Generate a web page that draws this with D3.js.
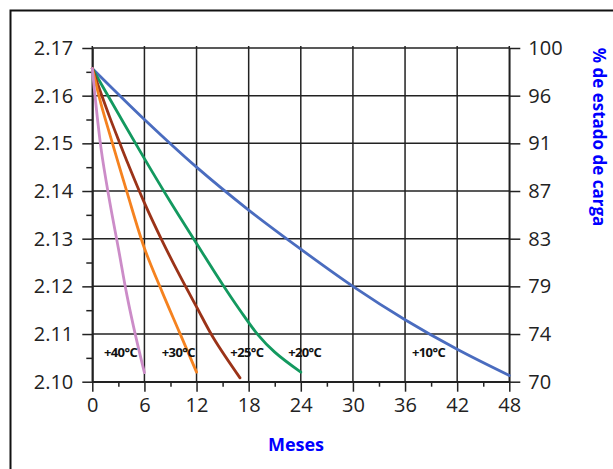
<!DOCTYPE html>
<html>
<head>
<meta charset="utf-8">
<script src="https://cdn.jsdelivr.net/npm/d3@7/dist/d3.min.js"></script>
<style>
  html, body { margin: 0; padding: 0; background: #fff; }
  svg { display: block; }
</style>
</head>
<body>
<div id="chart"></div>
<script>
// ---- data (months, cell voltage V) ----
var seriesNames = ["+10°C", "+20°C", "+25°C", "+30°C", "+40°C"];
var seriesColors = ["#4a6cbf", "#13995f", "#9b3318", "#f5821f", "#cc8cc8"];

var months10 = [0, 6, 12, 18, 24, 30, 36, 42, 48];
var volts10 = [2.1657, 2.1550, 2.1450, 2.1360, 2.1278, 2.1200, 2.1130, 2.1068, 2.1013];

var months20 = [0, 3, 6, 9, 12, 15, 17, 19, 21, 24];
var volts20 = [2.1657, 2.1562, 2.1468, 2.1377, 2.1290, 2.1204, 2.1150, 2.1100, 2.1062, 2.1020];

var months25 = [0, 1, 2, 3, 4, 6, 8, 10, 12, 14, 17];
var volts25 = [2.1657, 2.1605, 2.1555, 2.1508, 2.1462, 2.1375, 2.1297, 2.1225, 2.1157, 2.1090, 2.1008];

var months30 = [0, 1, 2, 3, 4, 6, 8, 10, 12];
var volts30 = [2.1657, 2.1583, 2.1520, 2.1458, 2.1397, 2.1280, 2.1190, 2.1105, 2.1020];

var months40 = [0, 1, 2, 3, 4, 5, 6];
var volts40 = [2.1657, 2.1490, 2.1378, 2.1280, 2.1180, 2.1095, 2.1019];

// label anchors in data units (month, volt)
var labelMonths = [38.7, 24.45, 17.8, 9.9, 3.25];
var labelVolts = [2.1063, 2.1063, 2.1063, 2.1063, 2.1063];

var voltTicks = [2.10, 2.11, 2.12, 2.13, 2.14, 2.15, 2.16, 2.17];
var chargeLabels = ["70", "74", "79", "83", "87", "91", "96", "100"];
var monthTicks = [0, 6, 12, 18, 24, 30, 36, 42, 48];

// ---- layout ----
var svgWidth = 613, svgHeight = 469;
var plot = { left: 92.3, right: 509.3, top: 48, bottom: 381.7 };

var svg = d3.select("#chart").append("svg")
    .attr("width", svgWidth)
    .attr("height", svgHeight);

// outer frame
svg.append("rect")
    .attr("x", 10.5).attr("y", 10.5)
    .attr("width", 620).attr("height", 480)
    .attr("fill", "none")
    .attr("stroke", "#111")
    .attr("stroke-width", 2);

var xScale = d3.scaleLinear().domain([0, 48]).range([plot.left, plot.right]);
var yScale = d3.scaleLinear().domain([2.10, 2.17]).range([plot.bottom, plot.top]);

var gridColor = "#222";
var fontFamily = "'Open Sans', 'Noto Sans', sans-serif";

// grid lines
svg.append("g").selectAll("line")
    .data(voltTicks)
    .enter().append("line")
    .attr("x1", plot.left).attr("x2", plot.right)
    .attr("y1", function (d) { return yScale(d); })
    .attr("y2", function (d) { return yScale(d); })
    .attr("stroke", gridColor).attr("stroke-width", 1.5);

svg.append("g").selectAll("line")
    .data(monthTicks)
    .enter().append("line")
    .attr("y1", plot.top - 2).attr("y2", plot.bottom)
    .attr("x1", function (d) { return xScale(d); })
    .attr("x2", function (d) { return xScale(d); })
    .attr("stroke", gridColor).attr("stroke-width", 1.5);

function styleAxis(g) {
    g.select(".domain").attr("stroke", gridColor).attr("stroke-width", 1.5);
    g.selectAll(".tick line").attr("stroke", gridColor).attr("stroke-width", 1.5);
    g.selectAll(".tick text")
        .attr("fill", "#222")
        .style("font-family", fontFamily)
        .style("font-size", "20px");
}

// left axis
var leftAxis = d3.axisLeft(yScale)
    .tickValues(voltTicks)
    .tickFormat(d3.format(".2f"))
    .tickSize(10).tickSizeOuter(0).tickPadding(9);
svg.append("g")
    .attr("transform", "translate(" + plot.left + ",0)")
    .call(leftAxis)
    .call(styleAxis);

// left minor ticks
var minorVolts = voltTicks.slice(0, -1).map(function (d) { return d + 0.005; });
svg.append("g")
    .attr("transform", "translate(" + plot.left + ",0)")
    .call(d3.axisLeft(yScale).tickValues(minorVolts).tickFormat("").tickSize(6).tickSizeOuter(0))
    .call(styleAxis);

// right axis (% state of charge)
var rightAxis = d3.axisRight(yScale)
    .tickValues(voltTicks)
    .tickFormat(function (d, i) { return chargeLabels[i]; })
    .tickSize(11).tickSizeOuter(0).tickPadding(8);
svg.append("g")
    .attr("transform", "translate(" + plot.right + ",0)")
    .call(rightAxis)
    .call(styleAxis);

// bottom axis
var bottomAxis = d3.axisBottom(xScale)
    .tickValues(monthTicks)
    .tickSize(10).tickSizeOuter(0).tickPadding(6);
svg.append("g")
    .attr("transform", "translate(0," + plot.bottom + ")")
    .call(bottomAxis)
    .call(styleAxis);

var minorMonths = monthTicks.slice(0, -1).map(function (d) { return d + 3; });
svg.append("g")
    .attr("transform", "translate(0," + plot.bottom + ")")
    .call(d3.axisBottom(xScale).tickValues(minorMonths).tickFormat("").tickSize(5).tickSizeOuter(0))
    .call(styleAxis);

// series lines
var allMonths = [months10, months20, months25, months30, months40];
var allVolts = [volts10, volts20, volts25, volts30, volts40];

var line = d3.line()
    .x(function (d) { return xScale(d[0]); })
    .y(function (d) { return yScale(d[1]); })
    .curve(d3.curveCatmullRom.alpha(0.5));

seriesNames.forEach(function (name, i) {
    var pts = d3.zip(allMonths[i], allVolts[i]);
    svg.append("path")
        .datum(pts)
        .attr("d", line)
        .attr("fill", "none")
        .attr("stroke", seriesColors[i])
        .attr("stroke-width", 2.8)
        .attr("stroke-linecap", "round");
});

// series labels
svg.append("g").selectAll("text")
    .data(seriesNames)
    .enter().append("text")
    .attr("x", function (d, i) { return xScale(labelMonths[i]); })
    .attr("y", function (d, i) { return yScale(labelVolts[i]); })
    .attr("text-anchor", "middle")
    .attr("dominant-baseline", "central")
    .attr("fill", "#111")
    .style("font-family", fontFamily)
    .style("font-weight", "bold")
    .style("font-size", "13px")
    .style("letter-spacing", "-0.6px")
    .text(function (d) { return d; });

// axis titles
svg.append("text")
    .attr("x", 296).attr("y", 444)
    .attr("text-anchor", "middle")
    .attr("dominant-baseline", "central")
    .attr("fill", "#0000ff")
    .style("font-family", fontFamily)
    .style("font-weight", "bold")
    .style("font-size", "18px")
    .text("Meses");

svg.append("text")
    .attr("transform", "translate(599,137) rotate(90)")
    .attr("text-anchor", "middle")
    .attr("dominant-baseline", "central")
    .attr("fill", "#0000ff")
    .style("font-family", fontFamily)
    .style("font-weight", "bold")
    .style("font-size", "17px")
    .text("% de estado de carga");
</script>
</body>
</html>
